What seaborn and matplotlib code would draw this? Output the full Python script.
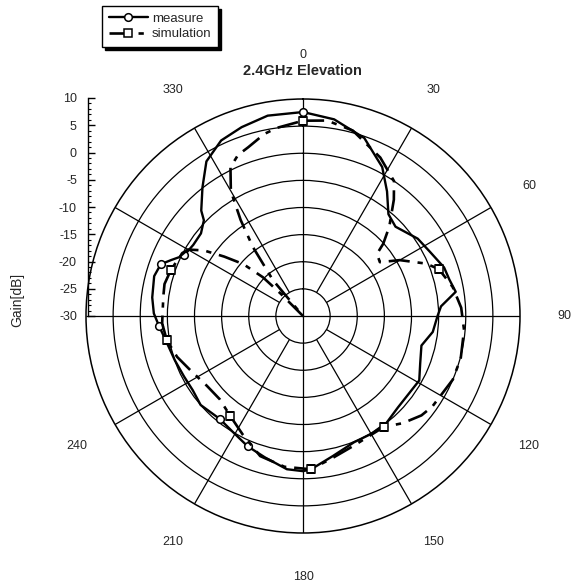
import numpy as np
import matplotlib
matplotlib.use('Agg')
import matplotlib.pyplot as plt
import pandas as pd
import seaborn as sns

sns.set_theme(style="white")
plt.rcParams['font.family'] = ['Liberation Sans', 'DejaVu Sans']
plt.rcParams['axes.unicode_minus'] = False

# measured pattern (solid), angle in degrees clockwise from top, gain in dB
measure_deg = [0, 9, 19, 28, 34, 40, 46, 56, 63, 71, 76, 81, 86, 90, 97, 104, 112,
               119, 126, 134, 142, 150, 158, 168, 177, 180, 186, 195, 203, 211, 219,
               229, 236, 243, 251, 260, 266, 271, 277, 285, 290, 293, 297, 303, 309,
               314, 316, 322, 328, 335, 342, 350, 360]
measure_db = [7.6, 6.7, 4.7, 1.1, -2.3, -5.5, -6.3, -4.5, -3.8, -2.5, -2.2, -1.5, -4.5,
              -5.2, -5.9, -7.5, -6.7, -5.5, -5.8, -5.7, -5.0, -4.9, -4.9, -3.6, -1.7,
              -1.4, -1.6, -3.0, -3.9, -5.0, -5.6, -5.0, -5.5, -5.4, -5.0, -4.3, -3.4,
              -2.5, -2.0, -1.6, -2.1, -3.6, -5.4, -5.9, -5.8, -4.6, -3.0, 0.1, 3.6,
              5.7, 6.6, 7.5, 7.6]

# simulated pattern (dashed)
sim_deg = [0, 7, 15, 26, 34, 38, 44, 48, 50, 55, 60, 67, 71, 79, 87, 95, 105, 113,
           125, 130, 137, 144, 159, 168, 177, 187, 197, 207, 216, 225, 234, 244, 252,
           260, 267, 278, 283, 289, 296, 300, 303.5, 307, 311, 314, 315, 316, 320,
           324, 327, 330, 334, 338, 342, 348, 352, 360]
sim_db = [6.0, 6.3, 5.4, 2.5, 0.0, -2.8, -7.1, -10.1, -12.2, -12.7, -9.4, -5.3, -3.5,
          -1.9, -0.8, -0.2, 0.1, 0.0, -0.9, -1.5, -3.0, -4.7, -4.3, -3.3, -1.7, -2.0,
          -3.0, -5.5, -7.2, -8.3, -8.1, -7.0, -5.6, -4.5, -4.0, -4.0, -3.8, -4.2,
          -4.8, -5.5, -8.1, -11.8, -15.4, -19.7, -24.1, -30.0, -21.4, -14.3, -8.9,
          -3.4, 0.5, 2.0, 2.7, 4.3, 5.0, 6.0]

measure_marks = [0, 203, 219, 266, 290, 297]
sim_marks = [0, 71, 144, 177, 216, 260, 289]

ring_levels = [-25, -20, -15, -10, -5, 0, 5]
spoke_deg = [30, 60, 120, 150, 210, 240, 300, 330]
axis_deg = [0, 90, 180, 270]
angle_labels = [0, 30, 60, 90, 120, 150, 180, 210, 240, 330]
gain_ticks = [10, 5, 0, -5, -10, -15, -20, -25, -30]

df_m = pd.DataFrame({'theta': np.radians(measure_deg), 'gain': measure_db})
df_s = pd.DataFrame({'theta': np.radians(sim_deg), 'gain': sim_db})

W, H = 571, 588
fig = plt.figure(figsize=(W / 100, H / 100), dpi=100)
ax = fig.add_axes([86 / W, 55 / H, 434 / W, 434 / H], projection='polar')
ax.set_theta_zero_location('N')
ax.set_theta_direction(-1)
ax.set_ylim(-30, 10)

ax.set_xticks([])
ax.set_rgrids(ring_levels, labels=[''] * len(ring_levels))
ax.grid(True, axis='y', color='black', linewidth=0.9)
ax.spines['polar'].set_color('black')
ax.spines['polar'].set_linewidth(1.1)
ax.vlines(np.radians(spoke_deg), -25, 10, colors='black', linewidth=0.9, zorder=1)
ax.vlines(np.radians(axis_deg), -30, 10, colors='black', linewidth=0.9, zorder=1)

sns.lineplot(data=df_m, x='theta', y='gain', sort=False, estimator=None, ax=ax,
             color='black', linewidth=1.7, marker='o', markersize=5.5,
             markerfacecolor='white', markeredgecolor='black', markeredgewidth=1.1,
             markevery=[measure_deg.index(a) for a in measure_marks], zorder=3)
l_meas = ax.lines[-1]
sns.lineplot(data=df_s, x='theta', y='gain', sort=False, estimator=None, ax=ax,
             color='black', linewidth=1.9, linestyle=(0, (8, 3, 2, 3)), marker='s',
             markersize=5.5, markerfacecolor='white', markeredgecolor='black',
             markeredgewidth=1.1,
             markevery=[sim_deg.index(a) for a in sim_marks], zorder=3)
l_sim = ax.lines[-1]
ax.set_xlabel('')
ax.set_ylabel('')

for a in angle_labels:
    ax.text(np.radians(a), 18.1, str(a), ha='center', va='center', fontsize=9,
            clip_on=False)

# radial gain scale on the left
gax = fig.add_axes([88 / W, 272 / H, 0.002, 218 / H])
gax.patch.set_visible(False)
gax.set_ylim(-30, 10)
gax.set_xticks([])
gax.set_yticks(gain_ticks)
gax.set_yticklabels([str(t) for t in gain_ticks])
gax.set_yticks(np.arange(-30, 11, 1), minor=True)
for s in ['top', 'right', 'bottom']:
    gax.spines[s].set_visible(False)
gax.spines['left'].set_color('black')
gax.spines['left'].set_linewidth(1.0)
gax.tick_params(axis='y', which='major', direction='in', length=5, width=1,
                color='black', labelsize=9, pad=8, left=True)
gax.tick_params(axis='y', which='minor', direction='in', length=2.5, width=0.8,
                color='black', left=True)

fig.text(17 / W, 1 - 300 / H, 'Gain[dB]', rotation=90, ha='center', va='center',
         fontsize=10)
fig.text(302 / W, 1 - 71 / H, '2.4GHz Elevation', ha='center', va='center',
         fontsize=10.5, fontweight='bold')

leg = fig.legend(handles=[l_meas, l_sim], labels=['measure', 'simulation'],
                 loc='upper left', bbox_to_anchor=(102 / W, 1 - 6 / H),
                 borderaxespad=0, fontsize=9.5, frameon=True, fancybox=False,
                 handlelength=3, borderpad=0.5, labelspacing=0.25,
                 handletextpad=0.3,
                 shadow={'color': 'black', 'alpha': 1, 'ox': 2, 'oy': -2})
leg.get_frame().set_edgecolor('black')
leg.get_frame().set_linewidth(1.0)

fig.savefig('out.png', dpi=100)
